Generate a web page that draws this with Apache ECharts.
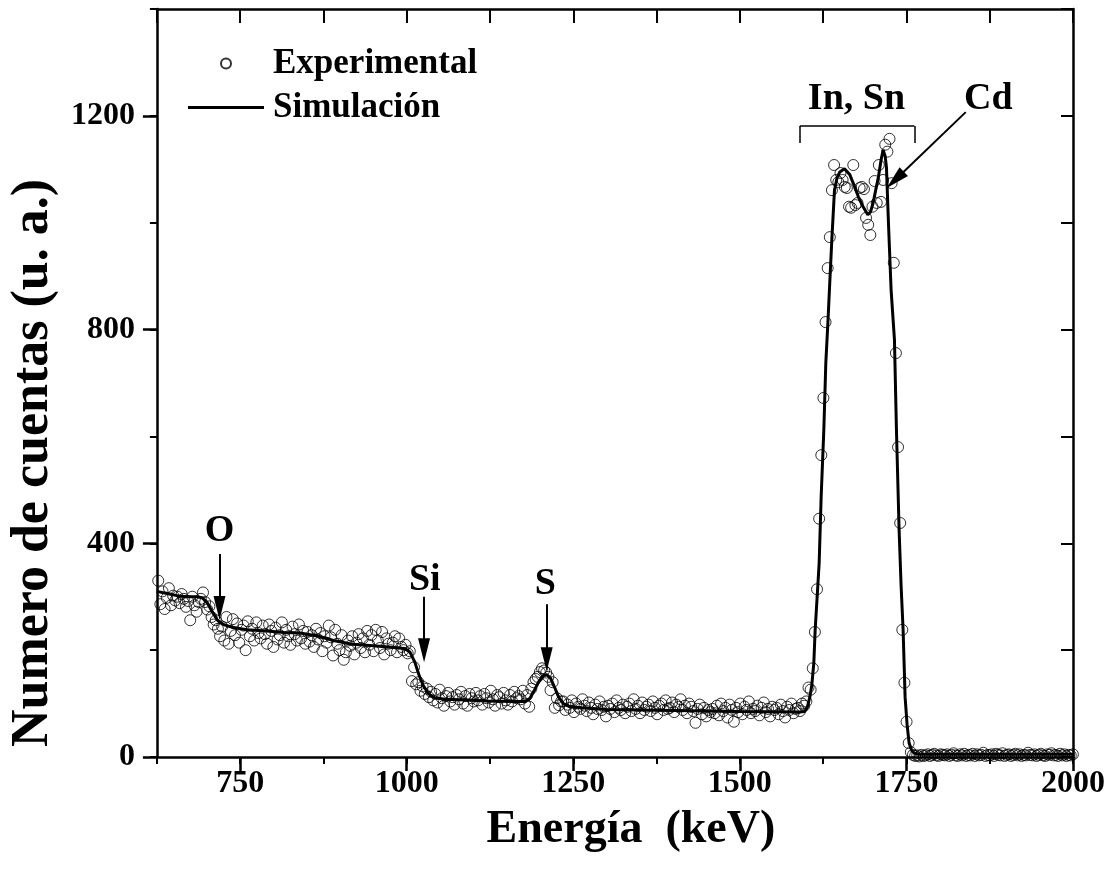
<!DOCTYPE html>
<html><head><meta charset="utf-8">
<script src="https://cdn.jsdelivr.net/npm/echarts@6/dist/echarts.min.js"></script>
<style>html,body{margin:0;padding:0;background:#fff}#c{width:1111px;height:882px}</style>
</head><body><div id="c"></div>
<script>
// Experimental spectrum: regular channels (energy calibration) and counts
const expStartEnergy = 627;   // keV, first channel
const expChannelWidth = 3.2;  // keV per channel
const expCounts = [
  330, 286, 310, 277, 298, 316, 284, 302, 293, 300,
  288, 305, 296, 281, 292, 256, 300, 284, 272, 290,
  296, 308, 290, 276, 282, 262, 248, 256, 240, 226,
  244, 218, 262, 212, 236, 258, 228, 250, 214, 238,
  246, 200, 254, 226, 240, 218, 252, 232, 222, 246,
  230, 212, 248, 236, 206, 242, 220, 228, 252, 214,
  238, 226, 210, 244, 230, 218, 248, 222, 236, 212,
  234, 216, 228, 206, 240, 220, 232, 198, 226, 214,
  246, 224, 190, 238, 212, 200, 228, 182, 196, 218,
  208, 226, 192, 214, 230, 204, 222, 196, 236, 210,
  228, 198, 238, 218, 204, 234, 192, 222, 212, 200,
  214, 226, 196, 222, 206, 200, 210, 194, 198, 142,
  168, 136, 140, 124, 132, 118, 128, 112, 122, 106,
  118, 102, 126, 110, 96, 114, 120, 104, 112, 98,
  116, 108, 122, 100, 114, 96, 118, 110, 104, 120,
  106, 114, 98, 118, 110, 102, 124, 108, 96, 116,
  112, 100, 120, 106, 98, 116, 104, 122, 110, 114,
  108, 124, 100, 116, 94, 128, 140, 146, 150, 159,
  166, 162, 158, 150, 125, 140, 92, 110, 97, 104,
  104, 88, 98, 92, 106, 84, 100, 94, 90, 108,
  96, 86, 102, 92, 80, 98, 90, 104, 88, 94,
  76, 96, 90, 100, 84, 106, 92, 88, 98, 82,
  94, 100, 86, 108, 90, 96, 82, 102, 88, 94,
  98, 86, 104, 92, 80, 96, 100, 88, 106, 90,
  92, 102, 84, 98, 94, 108, 88, 96, 82, 100,
  94, 86, 64, 90, 98, 80, 92, 76, 88, 84,
  90, 82, 96, 78, 100, 86, 92, 74, 98, 88,
  66, 92, 84, 100, 80, 94, 88, 104, 82, 90,
  86, 96, 78, 92, 102, 84, 90, 76, 94, 88,
  92, 80, 98, 86, 74, 94, 88, 100, 82, 90,
  92, 86, 100, 96, 104, 130, 126, 166, 234, 314,
  446, 565, 672, 814, 915, 973, 1061, 1108, 1080, 1076,
  1093, 1080, 1067, 1065, 1030, 1028, 1108, 1033, 1037, 1065,
  1067, 1063, 1009, 996, 977, 1030, 1078, 1037, 1108, 1039,
  1080, 1146, 1133, 1157, 1074, 925, 756, 580, 438, 238,
  139, 66, 26, 9, 4, 2, 3, 1, 4, 2,
  3, 5, 2, 4, 6, 3, 2, 5, 4, 3,
  5, 2, 4, 7, 3, 2, 5, 3, 6, 2,
  4, 3, 6, 2, 5, 3, 4, 8, 2, 4,
  3, 5, 2, 6, 4, 3, 7, 2, 4, 5,
  2, 4, 6, 3, 5, 2, 4, 3, 8, 4,
  3, 5, 2, 4, 6, 3, 2, 5, 4, 7,
  3, 4, 2, 6, 3, 5, 2, 4, 3, 5
];

// Simulation curve
const simEnergy = [625,640,655,670,685,693,700,708,716,725,737,760,790,816,840,868,890,918,950,980,997,1005,1012,1018,1025,1033,1042,1057,1080,1120,1160,1178,1185,1192,1199,1205,1210,1216,1222,1228,1235,1245,1263,1300,1400,1500,1590,1597,1601,1605,1608,1611,1613,1616,1619,1622,1626,1629,1632,1635,1638,1642,1646,1650,1657,1665,1672,1678,1685,1692,1696,1700,1704,1708,1712,1715,1718,1720,1723,1727,1732,1735,1739,1742,1745,1748,1751,1754,1758,1762,1770,1800,2000];
const simCounts = [310,306,302,300,300,298,290,272,256,248,243,238,236,233,232,226,218,211,208,205,203,196,178,155,133,118,111,108,107,105,104,104,110,126,143,152,154,147,130,112,100,94,92,89,87,85,84,85,92,112,135,176,238,300,363,487,612,738,810,890,968,1061,1085,1095,1101,1090,1068,1048,1030,1015,1020,1037,1062,1086,1118,1136,1125,1104,1000,874,781,612,425,320,238,112,60,26,12,7,5,5,5];

// Tick labels
const xTickLabels = [750, 1000, 1250, 1500, 1750, 2000];
const yTickLabels = [0, 400, 800, 1200];

// Annotations (data coordinates)
const arrowStarts = [[719, 380], [1026, 300], [1210, 286], [1839, 1207]];
const arrowEnds   = [[719, 279], [1026, 200], [1210, 183], [1733, 1080]];
const bracketPoints = [[1590, 1149], [1590, 1181], [1762, 1181], [1762, 1149]];
const labelNames  = ['O', 'Si', 'S', 'In, Sn', 'Cd'];
const labelCoords = [[719, 423], [1027, 330], [1208, 324], [1675, 1232], [1873, 1232]];

const FONT = '"Liberation Serif", "Times New Roman", serif';
const expData = expCounts.map((c, i) => [expStartEnergy + i * expChannelWidth, c]);
const simData = simEnergy.map((e, i) => [e, simCounts[i]]);

const markLineData = arrowStarts.map((s, i) => [
  { coord: s, symbol: 'none' },
  { coord: arrowEnds[i], symbol: 'triangle' }
]);
for (let i = 0; i < bracketPoints.length - 1; i++) {
  markLineData.push([
    { coord: bracketPoints[i], symbol: 'none', lineStyle: { width: 1.5 } },
    { coord: bracketPoints[i + 1], symbol: 'none' }
  ]);
}
const markPointData = labelNames.map((n, i) => ({ name: n, coord: labelCoords[i] }));

const chart = echarts.init(document.getElementById('c'), null, { renderer: 'canvas' });
const axisLineStyle = { color: '#000', width: 2.5 };
const plain = v => String(v);
chart.setOption({
  animation: false,
  backgroundColor: '#fff',
  grid: { left: 150, right: 38, top: 9, bottom: 125 },
  legend: {
    data: [
      { name: 'Experimental' },
      { name: 'Simulación', icon: 'path://M0,0L76,0L76,3L0,3Z' }
    ],
    orient: 'vertical', left: 183, top: 41,
    itemWidth: 76, itemHeight: 10, itemGap: 9,
    selectedMode: false,
    textStyle: { fontFamily: FONT, fontSize: 35, fontWeight: 'bold', color: '#000', padding: [0, 0, 0, 4] }
  },
  xAxis: [
    {
      type: 'value', min: 625, max: 2000, position: 'bottom',
      name: 'Energía  (keV)', nameLocation: 'middle', nameGap: 50,
      nameTextStyle: { fontFamily: FONT, fontWeight: 'bold', fontSize: 46, color: '#000', padding: [0, 0, 0, 32] },
      axisLine: { show: true, onZero: false, lineStyle: axisLineStyle },
      axisTick: { show: true, length: 14, customValues: xTickLabels, lineStyle: { color: '#000', width: 2.5 } },
      axisLabel: { customValues: xTickLabels, formatter: plain, fontFamily: FONT, fontSize: 32, fontWeight: 'bold', color: '#000', margin: 11 },
      splitLine: { show: false }
    },
    {
      type: 'value', min: 625, max: 2000, interval: 125, position: 'bottom',
      axisLine: { show: false }, axisLabel: { show: false }, splitLine: { show: false },
      axisTick: { show: true, length: 7, lineStyle: { color: '#000', width: 2 } }
    },
    {
      type: 'value', min: 625, max: 2000, interval: 125, position: 'top',
      axisLine: { show: true, onZero: false, lineStyle: axisLineStyle }, axisLabel: { show: false }, splitLine: { show: false },
      axisTick: { show: true, inside: true, length: 14, lineStyle: { color: '#000', width: 2 } }
    }
  ],
  yAxis: [
    {
      type: 'value', min: 0, max: 1400, position: 'left',
      name: 'Numero de cuentas (u. a.)', nameLocation: 'middle', nameGap: 96,
      nameTextStyle: { fontFamily: FONT, fontWeight: 'bold', fontSize: 52, color: '#000', padding: [0, 160, 0, 0] },
      axisLine: { show: true, onZero: false, lineStyle: axisLineStyle },
      axisTick: { show: true, length: 14, customValues: yTickLabels, lineStyle: { color: '#000', width: 2.5 } },
      axisLabel: { customValues: yTickLabels, formatter: plain, fontFamily: FONT, fontSize: 32, fontWeight: 'bold', color: '#000', margin: 22 },
      splitLine: { show: false }
    },
    {
      type: 'value', min: 0, max: 1400, interval: 200, position: 'left',
      axisLine: { show: false }, axisLabel: { show: false }, splitLine: { show: false },
      axisTick: { show: true, length: 7, lineStyle: { color: '#000', width: 2 } }
    },
    {
      type: 'value', min: 0, max: 1400, interval: 200, position: 'right',
      axisLine: { show: true, onZero: false, lineStyle: axisLineStyle }, axisLabel: { show: false }, splitLine: { show: false },
      axisTick: { show: true, inside: true, length: 12, lineStyle: { color: '#000', width: 2 } }
    }
  ],
  series: [
    {
      name: 'Experimental', type: 'scatter', xAxisIndex: 0, yAxisIndex: 0,
      data: expData, symbol: 'circle', symbolSize: 11, clip: true,
      itemStyle: { color: 'rgba(255,255,255,0)', borderColor: '#000', borderWidth: 1 },
      z: 2
    },
    {
      name: 'Simulación', type: 'line', xAxisIndex: 0, yAxisIndex: 0,
      data: simData, symbol: 'none', showSymbol: false, smooth: false,
      lineStyle: { color: '#000', width: 3 }, itemStyle: { color: '#000' },
      z: 3,
      markLine: {
        silent: true, animation: false,
        symbol: ['none', 'triangle'], symbolSize: [12, 24],
        label: { show: false },
        lineStyle: { type: 'solid', color: '#000', width: 2 },
        emphasis: { disabled: true },
        data: markLineData
      },
      markPoint: {
        silent: true, animation: false,
        symbol: 'rect', symbolSize: 1,
        itemStyle: { color: 'rgba(0,0,0,0)' },
        label: { show: true, position: 'inside', formatter: '{b}', fontFamily: FONT, fontSize: 38, fontWeight: 'bold', color: '#000' },
        data: markPointData
      }
    }
  ]
});
</script>
</body></html>
